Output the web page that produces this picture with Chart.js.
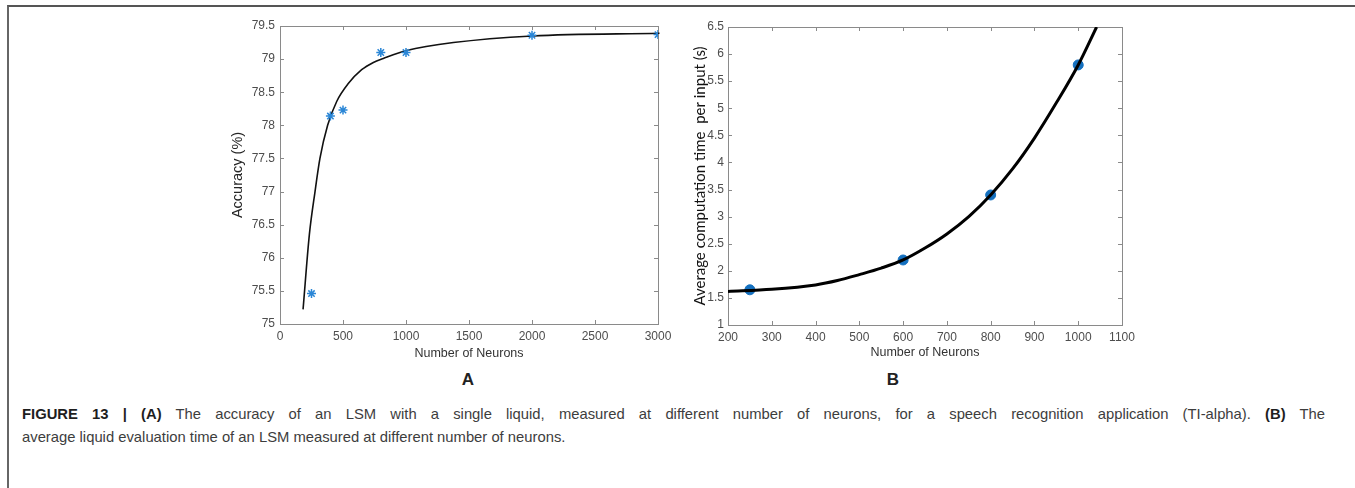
<!DOCTYPE html>
<html>
<head>
<meta charset="utf-8">
<script src="https://cdn.jsdelivr.net/npm/chart.js@4.4.1/dist/chart.umd.min.js"></script>
<style>
  html, body { margin: 0; padding: 0; background: #fff; }
  body { width: 1355px; height: 488px; position: relative; overflow: hidden; font-family: "Liberation Sans", Arial, sans-serif; }
  .frame { position: absolute; left: 7px; top: 5px; width: 1360px; height: 500px; border-top: 2px solid #555; border-left: 2px solid #666; }
  canvas { position: absolute; }
  .panel { position: absolute; top: 370px; font-weight: bold; font-size: 17px; color: #222; transform: translateX(-50%); }
  .caption { position: absolute; left: 22px; color: #3d3d3d; font-size: 14.8px; white-space: nowrap; }
  .caption b { color: #1e1e1e; }
  #cap1 { width: 1303px; text-align: justify; text-align-last: justify; }
</style>
</head>
<body>
<div class="frame"></div>
<canvas id="chartA" width="451" height="361" style="left:229px; top:0px;"></canvas>
<canvas id="chartB" width="469" height="360" style="left:691px; top:0px;"></canvas>
<div class="panel" style="left:468px;">A</div>
<div class="panel" style="left:893px;">B</div>
<div class="caption" id="cap1" style="top:406px;"><b>FIGURE 13 | (A)</b> The accuracy of an LSM with a single liquid, measured at different number of neurons, for a speech recognition application (TI-alpha). <b>(B)</b> The</div>
<div class="caption" id="cap2" style="top:429px;">average liquid evaluation time of an LSM measured at different number of neurons.</div>

<script>
// ===============================
// DATOS (A) precision vs neuronas
// ===============================
const neuronasA = [250, 400, 500, 800, 1000, 2000, 3000];
const precisionA = [75.46, 78.14, 78.23, 79.10, 79.10, 79.36, 79.37];
// curva ajustada
const ajusteXA = [183, 233, 278, 317, 378, 450, 542, 648, 741, 820, 1005, 1376, 2003, 3012];
const ajusteYA = [75.22, 76.35, 77.0, 77.5, 78.0, 78.36, 78.63, 78.84, 78.95, 79.01, 79.13, 79.25, 79.35, 79.39];
const ticksXA = [0, 500, 1000, 1500, 2000, 2500, 3000];
const ticksYA = [75, 75.5, 76, 76.5, 77, 77.5, 78, 78.5, 79, 79.5];

// ===============================
// DATOS (B) tiempo vs neuronas
// ===============================
const neuronasB = [250, 600, 800, 1000];
const tiempoB = [1.65, 2.2, 3.4, 5.8];
const ajusteXB = [200, 300, 400, 450, 500, 550, 600, 650, 700, 750, 800, 850, 900, 950, 1000, 1042];
const ajusteYB = [1.62, 1.66, 1.74, 1.82, 1.93, 2.05, 2.2, 2.42, 2.68, 3.0, 3.4, 3.88, 4.45, 5.1, 5.8, 6.5];
const ticksXB = [200, 300, 400, 500, 600, 700, 800, 900, 1000, 1100];
const ticksYB = [1, 1.5, 2, 2.5, 3, 3.5, 4, 4.5, 5, 5.5, 6, 6.5];

const pares = (xs, ys) => xs.map((x, i) => ({ x: x, y: ys[i] }));

// caja estilo matlab con ticks hacia dentro
const cajaPlugin = {
  id: "caja",
  beforeDatasetsDraw(chart) {
    const { ctx, chartArea: a, scales } = chart;
    const len = 4;
    ctx.save();
    ctx.strokeStyle = "#8a8a8a";
    ctx.lineWidth = 1;
    ctx.beginPath();
    scales.x.ticks.forEach(t => {
      const px = Math.round(scales.x.getPixelForValue(t.value)) + 0.5;
      ctx.moveTo(px, a.bottom); ctx.lineTo(px, a.bottom - len);
      ctx.moveTo(px, a.top); ctx.lineTo(px, a.top + len);
    });
    scales.y.ticks.forEach(t => {
      const py = Math.round(scales.y.getPixelForValue(t.value)) + 0.5;
      ctx.moveTo(a.left, py); ctx.lineTo(a.left + len, py);
      ctx.moveTo(a.right, py); ctx.lineTo(a.right - len, py);
    });
    ctx.stroke();
    ctx.strokeRect(Math.round(a.left) + 0.5, Math.round(a.top) + 0.5, Math.round(a.right - a.left), Math.round(a.bottom - a.top));
    ctx.restore();
  }
};

function ejes(cfg) {
  return {
    x: {
      type: "linear", min: cfg.xmin, max: cfg.xmax,
      afterBuildTicks: s => { s.ticks = cfg.ticksX.map(v => ({ value: v })); },
      afterFit: s => { s.height = cfg.xh; },
      grid: { display: false, drawTicks: false },
      border: { display: false },
      ticks: { autoSkip: false, maxRotation: 0, padding: 5, color: "#4d4d4d", callback: v => String(v), font: { family: "Liberation Sans", size: 12 } },
      title: { display: true, text: "Number of Neurons", color: "#333", padding: 0, font: { family: "Liberation Sans", size: 12.5 } }
    },
    y: {
      type: "linear", min: cfg.ymin, max: cfg.ymax,
      afterBuildTicks: s => { s.ticks = cfg.ticksY.map(v => ({ value: v })); },
      afterFit: s => { s.width = cfg.yw; },
      grid: { display: false, drawTicks: false },
      border: { display: false },
      ticks: { autoSkip: false, padding: cfg.ypad, color: "#4d4d4d", callback: v => String(v), font: { family: "Liberation Sans", size: 12 } },
      title: { display: true, text: cfg.ytitulo, color: cfg.ycolor, padding: 0, font: cfg.yfont }
    }
  };
}

new Chart(document.getElementById("chartA"), {
  type: "scatter",
  data: {
    datasets: [
      {
        data: pares(neuronasA, precisionA),
        pointStyle: "star", pointRadius: 4.5, borderColor: "#2a86d6", borderWidth: 1.5,
        backgroundColor: "#2a86d6", order: 0
      },
      {
        data: pares(ajusteXA, ajusteYA),
        showLine: true, pointRadius: 0, borderColor: "#111", borderWidth: 1.6,
        cubicInterpolationMode: "monotone", clip: false, order: 1
      }
    ]
  },
  options: {
    responsive: false, animation: false, devicePixelRatio: 1,
    layout: { padding: { top: 26, right: 22, left: 0, bottom: 0 } },
    plugins: { legend: { display: false }, tooltip: { enabled: false } },
    scales: ejes({
      xmin: 0, xmax: 3000, ymin: 75, ymax: 79.5, ticksX: ticksXA, ticksY: ticksYA,
      xh: 37, yw: 51, ypad: 5, ytitulo: "Accuracy (%)", ycolor: "#262626",
      yfont: { family: "Liberation Sans", size: 14.5 }
    })
  },
  plugins: [cajaPlugin]
});

new Chart(document.getElementById("chartB"), {
  type: "scatter",
  data: {
    datasets: [
      {
        data: pares(ajusteXB, ajusteYB),
        showLine: true, pointRadius: 0, borderColor: "#000", borderWidth: 3,
        cubicInterpolationMode: "monotone", order: 0
      },
      {
        data: pares(neuronasB, tiempoB),
        pointStyle: "circle", pointRadius: 5, borderColor: "#1470bf", borderWidth: 1,
        backgroundColor: "#1470bf", order: 1
      }
    ]
  },
  options: {
    responsive: false, animation: false, devicePixelRatio: 1,
    layout: { padding: { top: 27, right: 38, left: 0, bottom: 0 } },
    plugins: { legend: { display: false }, tooltip: { enabled: false } },
    scales: ejes({
      xmin: 200, xmax: 1100, ymin: 1, ymax: 6.5, ticksX: ticksXB, ticksY: ticksYB,
      xh: 35, yw: 37, ypad: 4, ytitulo: "Average computation time  per input (s)", ycolor: "#111",
      yfont: { family: "Lato", size: 15 }
    })
  },
  plugins: [cajaPlugin]
});
</script>
</body>
</html>
